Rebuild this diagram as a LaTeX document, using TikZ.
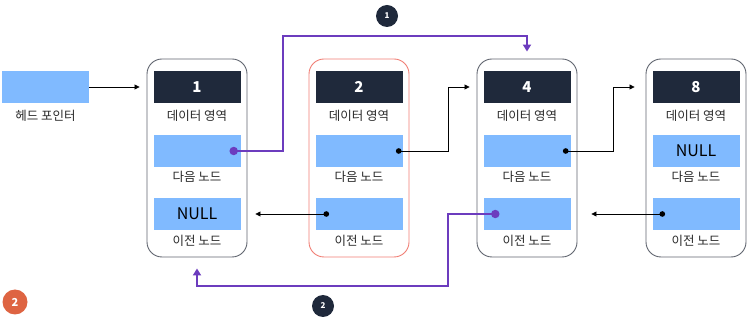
\documentclass[tikz,border=0pt]{standalone}
\usepackage{fontspec}
\setmainfont{Noto Sans CJK KR}
\usepackage{tikz}
\usetikzlibrary{positioning,calc}
\usetikzlibrary{arrows.meta}
\definecolor{SlateDark}{RGB}{31,41,59}
\definecolor{PtrBlue}{RGB}{128,186,255}
\definecolor{NodeGray}{RGB}{95,100,110}
\definecolor{NodeRed}{RGB}{240,125,115}
\definecolor{LinkPurple}{RGB}{108,60,190}
\definecolor{BadgeOrange}{RGB}{222,100,66}
\definecolor{LabelInk}{RGB}{40,40,40}
\tikzset{
  outer/.style={draw=NodeGray,line width=0.9pt,rounded corners=15pt,minimum width=100pt,minimum height=198pt,inner sep=0pt},
  databox/.style={fill=SlateDark,minimum width=87pt,minimum height=32pt,inner sep=0pt,text=white,font=\fontsize{15}{15}\selectfont\bfseries},
  ptrbox/.style={fill=PtrBlue,minimum width=87pt,minimum height=32pt,inner sep=0pt,font=\fontsize{16}{16}\selectfont},
  lab/.style={text=LabelInk,inner sep=0pt,font=\fontsize{12.5}{12.5}\selectfont},
}
\tikzset{dot/.style={circle,fill=black,inner sep=2pt}, pdot/.style={circle,fill=LinkPurple,inner sep=3pt},
  link/.style={draw=black,line width=0.8pt,-{Triangle[length=5pt,width=5pt]}},
  plink/.style={draw=LinkPurple,line width=2pt,-{Triangle[length=7pt,width=8pt]}},
  badge/.style={circle,fill=SlateDark,text=white,minimum size=22pt,inner sep=0pt,font=\fontsize{8}{8}\selectfont\bfseries}}

\begin{document}
\begin{tikzpicture}[x=1pt,y=-1pt]
\useasboundingbox (0,0) rectangle (750,320);
\node[ptrbox](head)at(45.5,87){};\node[lab]at(45.5,116){헤드 포인터};
\foreach \k/\cx/\col in {1/197/NodeGray,2/359/NodeRed,4/527/NodeGray,8/696/NodeGray}{
  \node[outer,draw=\col](o\k)at(\cx,158){};
  \node[databox](d\k)at(\cx,87){\k};\node[lab]at(\cx,116){데이터 영역};
  \node[ptrbox](nx\k)at(\cx,151){};\node[lab]at(\cx,177){다음 노드};
  \node[ptrbox](pv\k)at(\cx,214){};\node[lab]at(\cx,241){이전 노드};}
\node[ptrbox]at(pv1){NULL};\node[ptrbox]at(nx8){NULL};
% pointer positions
\coordinate(dn1)at($(nx1.east)+(-7,0)$);\coordinate(dn2)at($(nx2.east)+(-4,0)$);
\coordinate(dn4)at($(nx4.east)+(-5,0)$);\coordinate(dp2)at($(pv2.west)+(11,0)$);
\coordinate(dp4)at($(pv4.west)+(12,0)$);\coordinate(dp8)at($(pv8.west)+(10,0)$);
% links
\draw[link](head.east)--($(o1.west|-head.east)+(-7,0)$);
\draw[link](dn2)--++(50,0)|-($(o4.west|-d4.west)+(-7,0)$);
\draw[link](dn4)--++(48,0)|-($(o8.west|-d8.west)+(-11,0)$);
\draw[link](dp2)--($(o1.east|-dp2)+(8,0)$);
\draw[link](dp8)--($(o4.east|-dp8)+(14,0)$);
\draw[plink](dn1)--++(49,0)|-($(o4.north)+(0,-23)$)--([yshift=7pt]o4.north);
\draw[plink](dp4)--++(-47,0)|-($(o1.south)+(0,29)$)--([yshift=-11pt]o1.south);
\foreach \p in {dn2,dn4,dp2,dp8}{\node[dot]at(\p){};}
\foreach \p in {dn1,dp4}{\node[pdot]at(\p){};}
\node[badge](b1)at(387,16){1};\node[badge](b2)at(323,306){2};
\node[badge,fill=BadgeOrange,minimum size=25pt,font=\fontsize{11}{11}\selectfont\bfseries](stage)at(15,302){2};
\end{tikzpicture}
\end{document}
